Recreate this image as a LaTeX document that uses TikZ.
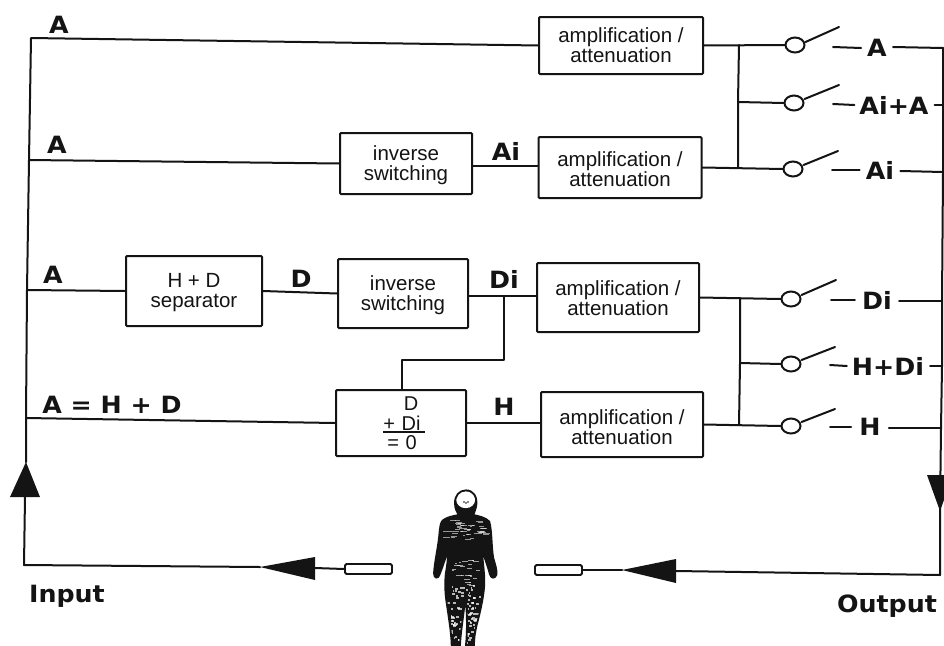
\documentclass[tikz,border=0pt]{standalone}
\usepackage{fontspec}
\setmainfont{Liberation Sans}
\newfontfamily\labfont{DejaVu Sans}
\usetikzlibrary{shapes.geometric}
\newcommand{\lbl}[1]{\scalebox{1.15}[1.08]{\labfont\bfseries\fontsize{22}{22}\selectfont #1}}
\definecolor{ink}{HTML}{141414}
\tikzset{
  wire/.style={draw=ink,line width=2pt,line join=round,line cap=round},
  blk/.style={draw=ink,line width=2pt,rectangle,rounded corners=1pt,inner sep=0pt,align=center,text=ink,
    font=\fontsize{20.5}{20}\selectfont},
  amp/.style={blk,minimum width=164pt,minimum height=60pt},
  tag/.style={inner sep=0pt,text=ink},
  dtxt/.style={inner sep=0pt,text=ink,font=\fontsize{20}{20}\selectfont},
  swc/.style={draw=ink,line width=2pt,ellipse,minimum width=19pt,minimum height=15pt,inner sep=0pt},
  sens/.style={draw=ink,line width=1.8pt,rectangle,rounded corners=1.5pt,inner sep=0pt,minimum width=47pt,minimum height=10pt}
}
\begin{document}
\begin{tikzpicture}[x=1pt,y=-1pt]
\useasboundingbox (0,0) rectangle (944,645);
\clip (0,0) rectangle (944,645);
\fill[white] (0,0) rectangle (944,645);
% boxes
\node[amp,minimum height=57pt] (amp1) at (621,45.5) {amplification /\\attenuation};
\node[amp,minimum width=163pt,minimum height=61pt] (amp2) at (620,167.5) {\rule{0pt}{19pt}amplification /\\attenuation};
\node[amp,minimum width=162pt,minimum height=69pt] (amp3) at (618,297.5) {\rule{0pt}{17pt}amplification /\\attenuation};
\node[amp,minimum width=162pt,minimum height=65pt] (amp4) at (622,424.5) {\rule{0pt}{21pt}amplification /\\attenuation};
\node[blk,minimum width=132pt,minimum height=61pt] (inv1) at (406,163.5) {\rule{0pt}{19pt}inverse\\switching};
\node[blk,minimum width=130pt,minimum height=69pt] (inv2) at (403,293.5) {\rule{0pt}{19pt}inverse\\switching};
\node[blk,minimum width=136pt,minimum height=70pt] (sep) at (194,291) {\rule{0pt}{17pt}H + D\\separator};
\node[blk,minimum width=130pt,minimum height=66pt] (sum) at (401,423) {};
\node[dtxt] (sumD) at (411,404) {D};
\node[dtxt] (sumP) at (402,423) {+\,\,Di};
\node[dtxt] (sumZ) at (402,443) {=\,\,0};
\coordinate (ruleL) at (383,432);
\coordinate (ruleR) at (425,432);
\draw[draw=ink,line width=1.5pt] (ruleL) -- (ruleR);
% left rail
\coordinate (lTop) at (31,38);
\coordinate (l2) at (29,160);
\coordinate (l3) at (27,290);
\coordinate (l4) at (26,418);
\coordinate (lTip) at (26,462);
\coordinate (lBase) at (25,497);
\coordinate (lCorner) at (24,565);
\draw[wire] (amp1.west) -- (lTop) -- (l2) -- (l3) -- (l4) -- (lTip);
\draw[wire] (lBase) -- (lCorner) -- (260,567);
\draw[wire] (l2) -- (inv1.west);
\draw[wire] (l3) -- (sep.west);
\draw[wire] (l4) -- (sum.west);
\fill[ink] (lTip) -- (40,497) -- (10,497) -- cycle;
% left input
\node[sens] (sIn) at (368.5,569) {};
\fill[ink] (260,567) -- (315,557) -- (315,580) -- cycle;
\draw[wire] (315,568) -- (sIn.west);
% signal chain
\coordinate (w1) at (500,166);
\coordinate (w2) at (500,296);
\coordinate (w3) at (500,423);
\draw[wire] (inv1.east |- w1) -- (amp2.west |- w1);
\draw[wire] (sep.east) -- (inv2.west);
\draw[wire] (inv2.east |- w2) -- (amp3.west |- w2);
\draw[wire] (sum.east |- w3) -- (amp4.west |- w3);
\coordinate (diJ) at (504,296);
\coordinate (diK) at (504,360);
\coordinate (diL) at (402,360);
\draw[wire] (diJ) -- (diK) -- (diL) -- (sum.north -| diL);
% switch circles
\node[swc] (c1) at (795,45) {};
\node[swc] (c2) at (794,103) {};
\node[swc] (c3) at (793,169) {};
\node[swc] (c4) at (791,299) {};
\node[swc] (c5) at (791,364) {};
\node[swc] (c6) at (791,426) {};
\draw[wire] (amp1.east) -- (c1.west);
\draw[wire] (amp2.east) -- (c3.west);
\draw[wire] (amp3.east) -- (c4.west);
\draw[wire] (amp4.east) -- (c6.west);
\coordinate (b1) at (739,45);
\coordinate (b2) at (738,102);
\coordinate (b3) at (738,168);
\coordinate (b4) at (740,298);
\coordinate (b5) at (740,363);
\coordinate (b6) at (739,425);
\draw[wire] (b1) -- (b2) -- (b3);
\draw[wire] (b4) -- (b5) -- (b6);
\draw[wire] (b2) -- (c2.west);
\draw[wire] (b5) -- (c5.west);
% switch arms
\draw[wire] (c1.east) ++(0,-3) -- (839,27);
\draw[wire] (c2.east) ++(0,-4) -- (839,85);
\draw[wire] (c3.east) ++(0,-4) -- (838,151);
\draw[wire] (c4.east) ++(0,-4) -- (836,280);
\draw[wire] (c5.east) ++(0,-4) -- (835,347);
\draw[wire] (c6.east) ++(0,-4) -- (835,409);
% switch labels
\node[tag] (t1) at (877,48) {\lbl{A}};
\node[tag] (t2) at (894,105) {\lbl{Ai+A}};
\node[tag] (t3) at (880,170) {\lbl{Ai}};
\node[tag] (t4) at (877,300) {\lbl{Di}};
\node[tag] (t5) at (888,366) {\lbl{H+Di}};
\node[tag] (t6) at (870,427) {\lbl{H}};
\coordinate (r1) at (943,48);
\coordinate (r2) at (943,105);
\coordinate (r3) at (943,172);
\coordinate (r4) at (942,301);
\coordinate (r5) at (942,366);
\coordinate (r6) at (941,428);
\coordinate (rBase) at (940,511);
\coordinate (rCorner) at (940,575);
\draw[wire] (833,47) -- ([xshift=-6pt]t1.west);
\draw[wire] (833,104) -- ([xshift=-5pt]t2.west);
\draw[wire] (832,170) -- ([xshift=-6pt]t3.west);
\draw[wire] (831,300) -- ([xshift=-7pt]t4.west);
\draw[wire] (830,365) -- ([xshift=-5pt]t5.west);
\draw[wire] (830,427) -- ([xshift=-8pt]t6.west);
\draw[wire] ([shift={(6,-1)}]t1.east) -- (r1);
\draw[wire] ([shift={(6,0)}]t2.east) -- (r2);
\draw[wire] ([shift={(6,1)}]t3.east) -- (r3);
\draw[wire] ([shift={(7,1)}]t4.east) -- (r4);
\draw[wire] ([shift={(6,0)}]t5.east) -- (r5);
\draw[wire] ([shift={(8,1)}]t6.east) -- (r6);
\draw[wire] (r1) -- (r2) -- (r3) -- (r4) -- (r5) -- (r6) -- (rBase) -- (rCorner) -- (676,571);
\fill[ink] (rBase) -- (927,475) -- (953,475) -- cycle;
% output sensor
\node[sens] (sOut) at (558.5,570) {};
\fill[ink] (622,570) -- (676,559) -- (676,583) -- cycle;
\draw[wire] (622,570) -- (sOut.east);
% signal labels
\node[tag] (la1) at (59,25) {\lbl{A}};
\node[tag] (la2) at (57,145) {\lbl{A}};
\node[tag] (la3) at (53,275) {\lbl{A}};
\node[tag] (la4) at (112,405) {\lbl{A = H + D}};
\node[tag] (ld) at (301,279) {\lbl{D}};
\node[tag] (lai) at (506,151) {\lbl{Ai}};
\node[tag] (ldi) at (504,279) {\lbl{Di}};
\node[tag] (lh) at (504,407) {\lbl{H}};
\node[tag,anchor=base] (inp) at (67,602) {\lbl{Input}};
\node[tag,anchor=base] (outp) at (887,612) {\lbl{Output}};
% person
\begin{scope}[shift={(410,455)},x=0.3333pt,y=-0.3333pt]
  \def\body{(168,106) .. controls (190,106) and (202,125) .. (199,150)
    .. controls (197,165) and (192,172) .. (190,180)
    .. controls (205,183) and (228,188) .. (238,200)
    .. controls (246,230) and (244,280) .. (250,310)
    .. controls (254,325) and (262,345) .. (259,360)
    .. controls (254,372) and (243,370) .. (240,358)
    .. controls (232,330) and (222,300) .. (215,285)
    .. controls (218,320) and (226,370) .. (222,400)
    .. controls (218,440) and (208,480) .. (200,510)
    .. controls (194,535) and (192,555) .. (192,570)
    -- (168,570) .. controls (172,530) and (172,470) .. (166,425)
    .. controls (162,470) and (152,530) .. (150,570)
    -- (125,570) .. controls (124,530) and (115,480) .. (111,450)
    .. controls (104,410) and (104,370) .. (110,340)
    .. controls (113,320) and (115,300) .. (114,285)
    .. controls (106,310) and (96,340) .. (88,360)
    .. controls (84,372) and (72,370) .. (72,355)
    .. controls (74,320) and (84,280) .. (88,240)
    .. controls (90,215) and (92,200) .. (100,195)
    .. controls (115,185) and (132,183) .. (146,180)
    .. controls (140,170) and (135,160) .. (135,145)
    .. controls (134,122) and (148,106) .. (168,106) -- cycle}
  \fill[ink] \body;
  \begin{scope}
    \clip \body;
    \fill[white] (167,134) ellipse (9.5pt and 8.5pt);
    \pgfmathsetseed{4217}
    \foreach \k in {1,...,45}{
      \pgfmathsetmacro{\px}{95+rnd*125}
      \pgfmathsetmacro{\py}{195+rnd*60}
      \pgfmathsetmacro{\pl}{6+rnd*18}
      \fill[white,opacity=0.55] (\px,\py) rectangle ++(\pl,3);
    }
    \foreach \k in {1,...,25}{
      \pgfmathsetmacro{\px}{115+rnd*100}
      \pgfmathsetmacro{\py}{310+rnd*90}
      \pgfmathsetmacro{\pl}{5+rnd*14}
      \fill[white,opacity=0.6] (\px,\py) rectangle ++(\pl,3);
    }
    \foreach \k in {1,...,110}{
      \pgfmathsetmacro{\px}{112+rnd*95}
      \pgfmathsetmacro{\py}{390+rnd*180}
      \pgfmathsetmacro{\pl}{3+rnd*7}
      \fill[white,opacity=0.7] (\px,\py) rectangle ++(\pl,6);
    }
    \foreach \k in {1,...,5}{
      \pgfmathsetmacro{\px}{155+rnd*28}
      \pgfmathsetmacro{\py}{135+rnd*25}
      \fill[ink,opacity=0.5] (\px,\py) rectangle ++(7,4);
    }
  \end{scope}
  \draw[ink,line width=1.8pt] \body;
\end{scope}
\end{tikzpicture}
\end{document}
